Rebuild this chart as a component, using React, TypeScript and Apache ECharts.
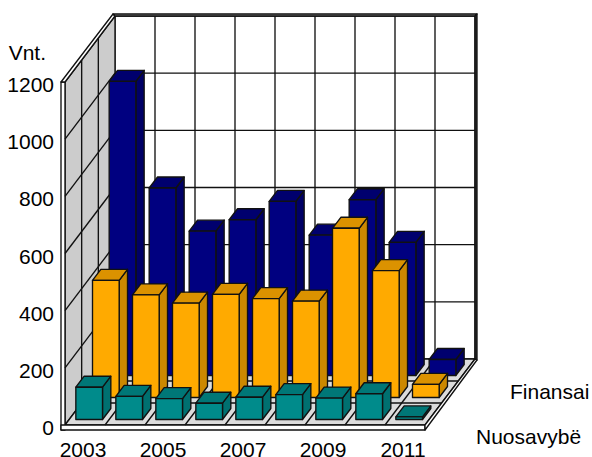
import React, { useEffect, useRef } from "react";
import * as echarts from "echarts";

const categories = ["2003", "2004", "2005", "2006", "2007", "2008", "2009", "2010", "2011"];
const yTicks = [0, 200, 400, 600, 800, 1000, 1200];
const finansai = [1029, 656, 505, 545, 609, 491, 615, 466, 56];
const middle = [410, 359, 330, 361, 346, 337, 592, 444, 46];
const nuosavybe = [113, 81, 73, 57, 78, 87, 75, 90, 9];
const depthNames = ["Nuosavybë", "", "Finansai"];

const DX = 50;
const DY = 66;
const ROWS = 3;
const LINE = "#111111";
const LW = 1.35;

const poly = (points: number[][], fill: string, z2 = 0) => ({
  type: "polygon",
  z2,
  shape: { points },
  style: { fill, stroke: LINE, lineWidth: LW, lineJoin: "round" },
});
const line = (a: number[], b: number[], z2 = 1) => ({
  type: "line",
  z2,
  shape: { x1: a[0], y1: a[1], x2: b[0], y2: b[1] },
  style: { stroke: LINE, lineWidth: LW, fill: "none" },
});

const frameRender = (_p: any, api: any) => {
  const band = api.size([1, 0])[0];
  const x0 = api.coord([0, 0])[0] - band / 2;
  const x1 = x0 + band * categories.length;
  const y0 = api.coord([0, 0])[1];
  const yT = api.coord([0, yTicks[yTicks.length - 1]])[1];
  const c: any[] = [];
  c.push(poly([[x0 + DX, yT - DY], [x1 + DX, yT - DY], [x1 + DX, y0 - DY], [x0 + DX, y0 - DY]], "#ffffff"));
  c.push(poly([[x0, y0], [x0, yT], [x0 + DX, yT - DY], [x0 + DX, y0 - DY]], "#cccccc"));
  c.push(poly([[x0, y0], [x1, y0], [x1 + DX, y0 - DY], [x0 + DX, y0 - DY]], "#dcdcdc"));
  // wall thickness
  c.push(poly([[x0 - 4, yT], [x0, yT], [x0, y0 + 5], [x0 - 4, y0 + 5]], "#ffffff"));
  c.push(poly([[x0 - 4, yT], [x0 + DX - 2, yT - DY - 2], [x0 + DX, yT - DY], [x0, yT]], "#ffffff"));
  c.push(poly([[x0 + DX - 2, yT - DY - 2], [x1 + DX + 2, yT - DY - 2], [x1 + DX, yT - DY], [x0 + DX, yT - DY]], "#aaaaaa"));
  c.push(poly([[x1 + DX, yT - DY], [x1 + DX + 2, yT - DY - 2], [x1 + DX + 2, y0 - DY + 1], [x1 + DX, y0 - DY]], "#333333"));
  c.push(poly([[x0 - 4, y0], [x1, y0], [x1, y0 + 5], [x0 - 4, y0 + 5]], "#ffffff"));
  c.push(poly([[x1, y0], [x1 + DX, y0 - DY], [x1 + DX + 2, y0 - DY + 1], [x1, y0 + 5]], "#ffffff"));
  yTicks.slice(1, -1).forEach((t) => {
    const y = api.coord([0, t])[1];
    c.push(line([x0, y], [x0 + DX, y - DY]));
    c.push(line([x0 + DX, y - DY], [x1 + DX, y - DY]));
  });
  categories.forEach((_, i) => {
    if (i === 0) return;
    const x = x0 + band * i;
    c.push(line([x + DX, yT - DY], [x + DX, y0 - DY]));
    c.push(line([x, y0], [x + DX, y0 - DY]));
  });
  for (let r = 1; r < ROWS; r++) {
    const dx = (DX * r) / ROWS;
    const dy = (DY * r) / ROWS;
    c.push(line([x0 + dx, yT - dy], [x0 + dx, y0 - dy]));
    c.push(line([x0 + dx, y0 - dy], [x1 + dx, y0 - dy]));
  }
  return { type: "group", children: c };
};

const barRender = (row: number, front: string, top: string, side: string) => (_p: any, api: any) => {
  const band = api.size([1, 0])[0];
  const cat = api.value(0);
  const base = api.coord([cat, 0]);
  const head = api.coord([cat, api.value(1)]);
  const rdx = DX / ROWS;
  const rdy = DY / ROWS;
  const ox = rdx * (row + 0.25);
  const oy = rdy * (row + 0.25);
  const w = (band * 2) / 3;
  const l = base[0] - w / 2 + ox;
  const r = l + w;
  const b = base[1] - oy;
  const t = head[1] - oy;
  const ddx = rdx / 2;
  const ddy = rdy / 2;
  return {
    type: "group",
    children: [
      poly([[r, b], [r, t], [r + ddx, t - ddy], [r + ddx, b - ddy]], side),
      poly([[l, t], [r, t], [r + ddx, t - ddy], [l + ddx, t - ddy]], top),
      poly([[l, b], [r, b], [r, t], [l, t]], front),
    ],
  };
};

const toData = (vals: number[]) => vals.map((v, i) => [i, v]);
const FONT = "Liberation Sans, Arial, sans-serif";

export default function App() {
  const ref = useRef<HTMLDivElement>(null);
  useEffect(() => {
    const chart = echarts.init(ref.current!, null, { renderer: "svg" });
    chart.setOption({
      animation: false,
      backgroundColor: "#ffffff",
      grid: { left: 65, right: 167, top: 82, bottom: 32, outerBoundsMode: "none" },
      xAxis: {
        type: "category",
        data: categories,
        axisLine: { show: false },
        axisTick: { show: false },
        splitLine: { show: false },
        axisLabel: { interval: 1, color: "#000", fontFamily: FONT, fontSize: 21, lineHeight: 16, margin: 16, padding: [0, 4, 0, 0], hideOverlap: false },
      },
      yAxis: {
        type: "value",
        min: 0,
        max: 1200,
        interval: 200,
        name: "Vnt.",
        nameLocation: "end",
        nameGap: 19,
        nameTextStyle: { color: "#000", fontFamily: FONT, fontSize: 21, align: "right", padding: [0, 19, 0, 0] },
        axisLine: { show: false },
        axisTick: { show: false },
        splitLine: { show: false },
        axisLabel: { color: "#000", fontFamily: FONT, fontSize: 21, lineHeight: 5, verticalAlign: "top", margin: 11, formatter: (v: number) => String(v), hideOverlap: false },
      },
      graphic: [
        { type: "text", x: 510, y: 391, style: { text: depthNames[2], fill: "#000", font: `21px ${FONT}`, textVerticalAlign: "middle" } },
        { type: "text", x: 476, y: 436, style: { text: depthNames[0], fill: "#000", font: `21px ${FONT}`, textVerticalAlign: "middle" } },
      ],
      series: [
        { type: "custom", name: "frame", z: 1, data: [[0, 0]], encode: { x: 0, y: 1 }, renderItem: frameRender, silent: true },
        { type: "custom", name: depthNames[2], z: 2, data: toData(finansai), encode: { x: 0, y: 1 }, renderItem: barRender(2, "#000080", "#00006e", "#000066") },
        { type: "custom", name: "Vidurys", z: 3, data: toData(middle), encode: { x: 0, y: 1 }, renderItem: barRender(1, "#ffaa00", "#db9200", "#cc8800") },
        { type: "custom", name: depthNames[0], z: 4, data: toData(nuosavybe), encode: { x: 0, y: 1 }, renderItem: barRender(0, "#008b8b", "#007777", "#007070") },
      ],
    });
    return () => chart.dispose();
  }, []);
  return <div ref={ref} style={{ position: "fixed", left: 0, top: 0, width: 592, height: 457 }} />;
}
